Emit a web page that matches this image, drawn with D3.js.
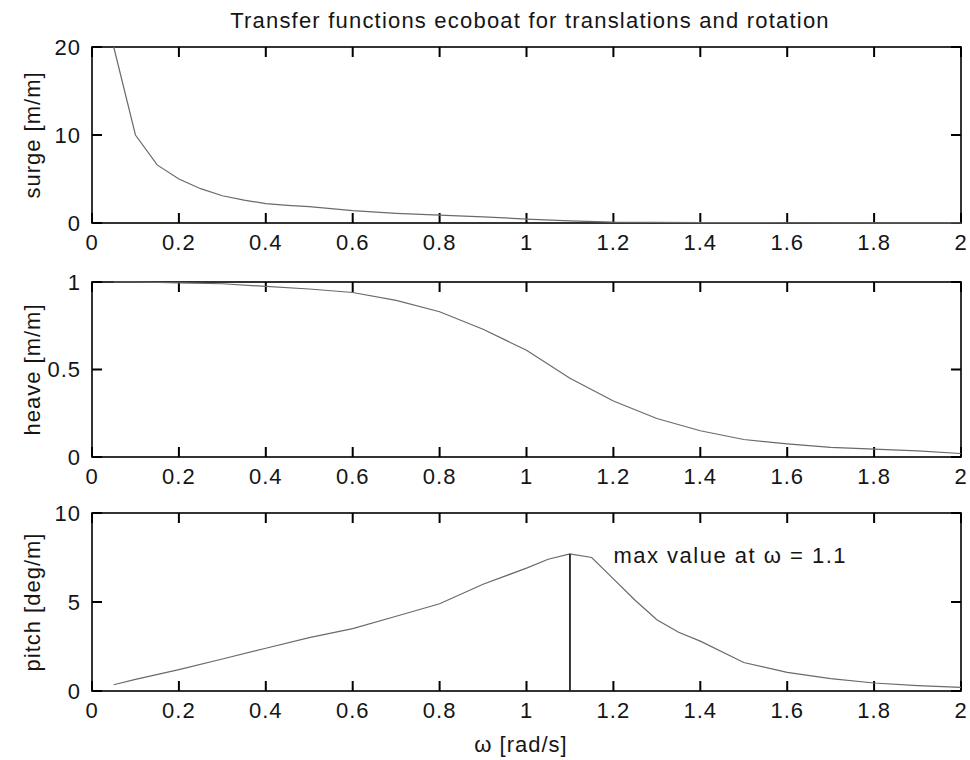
<!DOCTYPE html>
<html>
<head>
<meta charset="utf-8">
<script src="https://cdn.jsdelivr.net/npm/d3@7"></script>
<style>
  html, body { margin: 0; padding: 0; background: #fff; }
  svg { display: block; }
  text { font-family: "Liberation Sans", Arial, sans-serif; fill: #151515; }
</style>
</head>
<body>
<svg id="chart" width="970" height="760"></svg>
<script>
// Frequency grid (rad/s) and response amplitude for each motion
const omegaSurge = [0.05, 0.1, 0.15, 0.2, 0.25, 0.3, 0.35, 0.4, 0.45, 0.5, 0.6, 0.7, 0.8, 0.9, 1.0, 1.1, 1.2, 1.3, 1.4, 1.6, 1.8, 2.0];
const surge      = [20, 10, 6.6, 5.0, 3.9, 3.1, 2.6, 2.2, 2.0, 1.85, 1.4, 1.1, 0.9, 0.7, 0.45, 0.25, 0.1, 0.06, 0.04, 0.03, 0.02, 0.02];

const omegaHeave = [0.05, 0.1, 0.2, 0.3, 0.4, 0.5, 0.6, 0.7, 0.8, 0.9, 1.0, 1.1, 1.2, 1.3, 1.4, 1.5, 1.6, 1.7, 1.8, 1.9, 2.0];
const heave      = [1.0, 1.0, 0.995, 0.99, 0.975, 0.96, 0.94, 0.895, 0.83, 0.73, 0.61, 0.45, 0.32, 0.22, 0.15, 0.1, 0.075, 0.055, 0.045, 0.035, 0.02];

const omegaPitch = [0.05, 0.1, 0.2, 0.3, 0.4, 0.5, 0.6, 0.7, 0.8, 0.9, 1.0, 1.05, 1.1, 1.15, 1.2, 1.25, 1.3, 1.35, 1.4, 1.5, 1.6, 1.7, 1.8, 1.9, 2.0];
const pitch      = [0.35, 0.65, 1.2, 1.8, 2.4, 3.0, 3.5, 4.2, 4.9, 6.0, 6.9, 7.4, 7.7, 7.5, 6.3, 5.1, 4.0, 3.3, 2.8, 1.6, 1.05, 0.7, 0.45, 0.3, 0.2];

// Peak of the pitch response, marked with a vertical line
const peakOmega = 1.1;
const peakPitch = 7.7;

const xTicks = [0, 0.2, 0.4, 0.6, 0.8, 1, 1.2, 1.4, 1.6, 1.8, 2];
const panels = [
  { name: "surge [m/m]",   xs: omegaSurge, ys: surge, domain: [0, 20], ticks: [0, 10, 20], top: 47,  bottom: 223 },
  { name: "heave [m/m]",   xs: omegaHeave, ys: heave, domain: [0, 1],  ticks: [0, 0.5, 1], top: 282, bottom: 457 },
  { name: "pitch [deg/m]", xs: omegaPitch, ys: pitch, domain: [0, 10], ticks: [0, 5, 10], top: 513, bottom: 691 }
];

const svg = d3.select("#chart");
const left = 92, right = 961;
const x = d3.scaleLinear().domain([0, 2]).range([left, right]);
const tickLen = 10;
const fmt = d => String(+d.toFixed(2));
const labelFont = "22px";
const tickColor = "#000";

svg.append("text")
  .attr("x", 530).attr("y", 28)
  .attr("text-anchor", "middle")
  .style("font-size", labelFont).style("letter-spacing", "1.2px")
  .text("Transfer functions ecoboat for translations and rotation");

panels.forEach((p, i) => {
  const y = d3.scaleLinear().domain(p.domain).range([p.bottom, p.top]);
  const g = svg.append("g");

  // frame
  g.append("rect").attr("x", left).attr("y", p.top).attr("width", right - left).attr("height", p.bottom - p.top)
    .attr("fill", "none").attr("stroke", "#000").attr("stroke-width", 1.6);

  // inward tick marks on all four sides
  g.selectAll("line.xb").data(xTicks).join("line").attr("class", "xb")
    .attr("x1", t => x(t)).attr("x2", t => x(t)).attr("y1", p.bottom).attr("y2", p.bottom - tickLen)
    .attr("stroke", tickColor).attr("stroke-width", 2);
  g.selectAll("line.xt").data(xTicks).join("line").attr("class", "xt")
    .attr("x1", t => x(t)).attr("x2", t => x(t)).attr("y1", p.top).attr("y2", p.top + tickLen)
    .attr("stroke", tickColor).attr("stroke-width", 2);
  g.selectAll("line.yl").data(p.ticks).join("line").attr("class", "yl")
    .attr("x1", left).attr("x2", left + tickLen).attr("y1", t => y(t)).attr("y2", t => y(t))
    .attr("stroke", tickColor).attr("stroke-width", 2);
  g.selectAll("line.yr").data(p.ticks).join("line").attr("class", "yr")
    .attr("x1", right).attr("x2", right - tickLen).attr("y1", t => y(t)).attr("y2", t => y(t))
    .attr("stroke", tickColor).attr("stroke-width", 2);

  // tick labels
  g.selectAll("text.xl").data(xTicks).join("text").attr("class", "xl")
    .attr("x", t => x(t)).attr("y", p.bottom + 27)
    .attr("text-anchor", "middle")
    .style("font-size", labelFont).style("letter-spacing", "1px")
    .text(fmt);
  g.selectAll("text.yv").data(p.ticks).join("text").attr("class", "yv")
    .attr("x", left - 11).attr("y", t => y(t)).attr("dy", "0.36em")
    .attr("text-anchor", "end")
    .style("font-size", labelFont).style("letter-spacing", "1px")
    .text(fmt);

  const line = d3.line().x((d, k) => x(p.xs[k])).y(d => y(d));
  g.append("path").datum(p.ys).attr("d", line)
    .attr("fill", "none").attr("stroke", "#6a6a6a").attr("stroke-width", 1.2);

  g.append("text")
    .attr("transform", `translate(40,${(p.top + p.bottom) / 2}) rotate(-90)`)
    .attr("text-anchor", "middle")
    .style("font-size", labelFont).style("letter-spacing", "1px")
    .text(p.name);

  if (i === 2) {
    g.append("line")
      .attr("x1", x(peakOmega)).attr("x2", x(peakOmega))
      .attr("y1", y(0)).attr("y2", y(peakPitch))
      .attr("stroke", "#222").attr("stroke-width", 1.8);
    g.append("text")
      .attr("x", x(1.2)).attr("y", 563)
      .style("font-size", labelFont).style("letter-spacing", "1.5px")
      .text("max value at \u03C9 = 1.1");
  }
});

svg.append("text")
  .attr("x", 521).attr("y", 752)
  .attr("text-anchor", "middle")
  .style("font-size", labelFont).style("letter-spacing", "1px")
  .text("\u03C9 [rad/s]");
</script>
</body>
</html>
